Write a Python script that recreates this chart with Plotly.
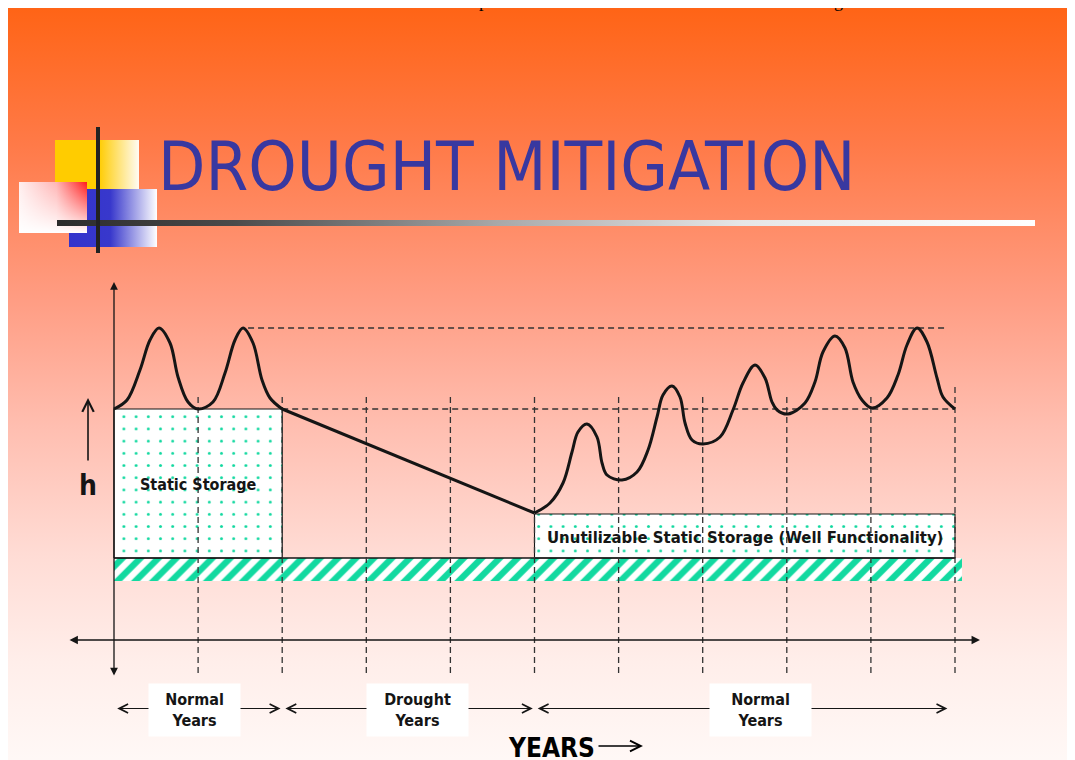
import plotly.graph_objects as go

# ---------------- data (x in years, h in relative water-level units) ----------------
year_marks = [1, 2, 3, 4, 5, 6, 7, 8, 9, 10]

normal_x = [0.0, 0.155, 0.309, 0.428, 0.535, 0.666, 0.761, 0.880, 1.0,
            1.177, 1.320, 1.439, 1.534, 1.653, 1.760, 1.855, 2.0]
normal_h = [23.1, 24.0, 27.0, 30.0, 31.2, 29.7, 26.3, 23.8, 23.1,
            23.8, 26.7, 30.0, 31.2, 29.7, 26.0, 24.2, 23.1]

drought_x = [2.0, 5.0]
drought_h = [23.1, 12.7]

recovery_x = [5.0, 5.184, 5.339, 5.446, 5.517, 5.624, 5.743, 5.803, 5.862, 6.040,
              6.219, 6.350, 6.457, 6.528, 6.635, 6.730, 6.790, 6.873, 7.004, 7.206,
              7.360, 7.479, 7.622, 7.741, 7.824, 7.884, 8.014, 8.216, 8.335, 8.430,
              8.573, 8.692, 8.787, 8.894, 9.013, 9.191, 9.322, 9.429, 9.548, 9.667,
              9.786, 9.857, 10.0]
recovery_h = [12.7, 13.7, 15.7, 18.8, 20.8, 21.6, 20.3, 17.7, 16.5, 16.0,
              16.8, 19.0, 22.3, 24.5, 25.4, 24.3, 21.7, 20.0, 19.6, 20.3,
              23.0, 25.7, 27.5, 26.2, 23.8, 23.0, 22.6, 23.7, 25.8, 28.8,
              30.4, 29.2, 25.8, 24.0, 23.2, 24.2, 26.5, 29.5, 31.2, 29.8,
              26.2, 24.3, 23.1]

base_level = 23.1
peak_level = 31.2
storage_floor = 8.2
hatch_floor = 5.9
unusable_top = 12.6

period_labels = ["Normal<br>Years", "Drought<br>Years", "Normal<br>Years"]
period_start = [0.0, 2.0, 5.0]
period_end = [2.0, 5.0, 9.93]

title_text = "DROUGHT MITIGATION"

# ---------------- layout constants ----------------
W, H = 1075, 760
OFF = 8                                   # page offset of the figure inside the window
PX0, PX_PER_YEAR = 114.0 - OFF, 84.1      # pixel of year 0, pixels per year
PY0, PX_PER_UNIT = 640.0 - OFF, 10.0      # pixel of h = 0, pixels per unit
X2_RANGE = [(0 - PX0) / PX_PER_YEAR, (W - PX0) / PX_PER_YEAR]
Y2_RANGE = [(PY0 - H) / PX_PER_UNIT, PY0 / PX_PER_UNIT]

FONT = "DejaVu Sans Condensed, DejaVu Sans, sans-serif"
GREEN = "#12D9A0"
INK = "#151515"

fig = go.Figure()


def rect(x0, x1, y0, y1):
    return [x0, x1, x1, x0, x0], [y0, y0, y1, y1, y0]


def grad_rect(x0, x1, y0, y1, kind, cs, shift=True):
    if shift:
        x0, x1, y0, y1 = x0 - OFF, x1 - OFF, y0 - OFF, y1 - OFF
    xs, ys = rect(x0, x1, y0, y1)
    start, stop = (x0, x1) if kind == "horizontal" else (y0, y1)
    fig.add_trace(go.Scatter(
        x=xs, y=ys, mode="lines", line=dict(width=0), fill="toself",
        fillgradient=dict(type=kind, colorscale=cs, start=start, stop=stop),
        xaxis="x", yaxis="y", hoverinfo="skip", showlegend=False))


# ---------------- slide decoration (pixel axes x / y) ----------------
grad_rect(0, W, 0, H, "vertical",
          [[0, "#FF6416"], [0.18, "#FF7A48"], [0.38, "#FF9C82"],
           [0.55, "#FFBEB0"], [0.72, "#FFDCD5"], [0.86, "#FFEEEA"], [1, "#FFF9F7"]], shift=False)
grad_rect(55, 139, 140, 189, "horizontal",
          [[0, "#FFCC00"], [0.52, "#FFCC00"], [1, "#FFFBF4"]])
grad_rect(69, 157, 189, 247, "horizontal",
          [[0, "#3333CC"], [0.47, "#3838CC"], [1, "#FFFFFF"]])
grad_rect(19, 87, 182, 233, "horizontal",
          [[0, "#FFEFEF"], [0.55, "#FFB5B5"], [1, "#FF1A1A"]])
grad_rect(19, 87, 182, 233, "vertical",
          [[0, "rgba(255,255,255,0)"], [1, "rgba(255,255,255,1)"]])
grad_rect(57, 1035, 220, 226, "horizontal",
          [[0, "#2B2B2B"], [0.18, "#4A4A4A"], [0.45, "#A8A8A8"], [0.7, "#E6E6E6"], [1, "#FFFFFF"]])
grad_rect(96, 100, 127, 253, "horizontal", [[0, "#222222"], [1, "#222222"]])

# ---------------- diagram (axes x2 / y2) ----------------
D = dict(xaxis="x2", yaxis="y2", hoverinfo="skip", showlegend=False)

hx, hy = rect(0, 10.083, hatch_floor, storage_floor)
fig.add_trace(go.Scatter(
    x=hx, y=hy, mode="lines", line=dict(width=0), fill="toself", fillcolor=GREEN,
    fillpattern=dict(shape="/", fgcolor=GREEN, bgcolor="white", size=12.7,
                     solidity=0.5, fillmode="replace"), **D))

sx, sy = rect(0, 2, storage_floor, base_level)
fig.add_trace(go.Scatter(
    x=sx, y=sy, mode="lines", line=dict(width=1.2, color=INK), fill="toself", fillcolor=GREEN,
    fillpattern=dict(shape=".", fgcolor=GREEN, bgcolor="white", size=12.2,
                     solidity=0.045, fillmode="replace"), **D))

ux, uy = rect(5, 10, storage_floor, unusable_top)
fig.add_trace(go.Scatter(
    x=ux, y=uy, mode="lines", line=dict(width=1.1, color=INK), fill="toself", fillcolor=GREEN,
    fillpattern=dict(shape=".", fgcolor=GREEN, bgcolor="white", size=12.2,
                     solidity=0.045, fillmode="replace"), **D))

fig.add_trace(go.Scatter(x=[0, 10], y=[storage_floor, storage_floor], mode="lines",
                         line=dict(width=1.3, color=INK), **D))

# dashed year lines
vx, vy = [], []
for yr in year_marks:
    top = base_level + (2.2 if yr == year_marks[-1] else 1.2)
    vx += [yr, yr, None]
    vy += [top, -3.7, None]
fig.add_trace(go.Scatter(x=vx, y=vy, mode="lines",
                         line=dict(width=1.3, color="#333333", dash="6px,4px"), **D))

# dashed reference levels
fig.add_trace(go.Scatter(x=[normal_x[12] + 0.06, 9.917, None, 2.0, 10.0],
                         y=[peak_level, peak_level, None, base_level, base_level],
                         mode="lines", line=dict(width=1.3, color="#333333", dash="6px,4px"), **D))

# water level curve
fig.add_trace(go.Scatter(x=normal_x, y=normal_h, mode="lines",
                         line=dict(width=3, color=INK, shape="spline", smoothing=1.0), **D))
fig.add_trace(go.Scatter(x=drought_x, y=drought_h, mode="lines",
                         line=dict(width=3, color=INK), **D))
fig.add_trace(go.Scatter(x=recovery_x, y=recovery_h, mode="lines",
                         line=dict(width=3, color=INK, shape="spline", smoothing=1.0), **D))

ann = []
A = dict(xref="x2", yref="y2", axref="x2", ayref="y2")

# axes with arrows
ann.append(dict(x=0, y=35.8, ax=0, ay=-3.7, text="", showarrow=True, arrowside="end+start",
                arrowhead=2, startarrowhead=2, arrowsize=1.2, startarrowsize=1.2,
                arrowwidth=1.3, arrowcolor=INK, **A))
ann.append(dict(x=10.297, y=0, ax=-0.547, ay=0, text="", showarrow=True, arrowside="end+start",
                arrowhead=2, startarrowhead=2, arrowsize=1.2, startarrowsize=1.2,
                arrowwidth=1.4, arrowcolor=INK, **A))
# h arrow
ann.append(dict(x=-0.309, y=24.2, ax=-0.309, ay=17.8, text="", showarrow=True,
                arrowhead=5, arrowsize=1.4, arrowwidth=1.6, arrowcolor=INK, **A))
ann.append(dict(x=-0.309, y=15.5, text="h", showarrow=False, xref="x2", yref="y2",
                font=dict(family=FONT, size=28, color=INK, weight="bold")))

# period arrows and labels
centers = [0.957, 3.609, 7.687]
widths = [91, 101, 101]
for lab, s, e, c, w in zip(period_labels, period_start, period_end, centers, widths):
    ann.append(dict(x=e - 0.02, y=-6.85, ax=s + 0.02, ay=-6.85, text="", showarrow=True,
                    arrowside="end+start", arrowhead=5, startarrowhead=5,
                    arrowsize=1.6, startarrowsize=1.6, arrowwidth=1.1, arrowcolor=INK, **A))
    ann.append(dict(x=c, y=-7.0, text=lab, showarrow=False, xref="x2", yref="y2",
                    bgcolor="white", width=w, height=52, borderpad=0,
                    font=dict(family=FONT, size=16, color=INK, weight="bold")))

# YEARS label
ann.append(dict(x=5.2, y=-10.8, text="YEARS", showarrow=False, xref="x2", yref="y2",
                font=dict(family=FONT, size=26, color="#000000", weight="bold")))
ann.append(dict(x=6.29, y=-10.6, ax=5.743, ay=-10.6, text="", showarrow=True,
                arrowhead=5, arrowsize=1.5, arrowwidth=1.4, arrowcolor="#000000", **A))

# storage labels
ann.append(dict(x=1.0, y=15.6, text="Static Storage", showarrow=False, xref="x2", yref="y2",
                font=dict(family=FONT, size=16, color=INK, weight="bold")))
ann.append(dict(x=7.503, y=10.3, text="Unutilizable Static Storage (Well Functionality)",
                showarrow=False, xref="x2", yref="y2",
                font=dict(family=FONT, size=16.6, color=INK, weight="bold")))

# slide title
ann.append(dict(x=156 - OFF, y=166 - OFF, xanchor="left", yanchor="middle", text=title_text,
                showarrow=False, xref="x", yref="y",
                font=dict(family=FONT, size=68.5, color="#3838A0")))

# clipped text fragments above the slide
ann.append(dict(x=(483 - OFF) / W, y=1 - 5 / H, xanchor="center", yanchor="bottom", text="p",
                showarrow=False, xref="paper", yref="paper",
                font=dict(family="Liberation Serif", size=18, color="#000000")))
ann.append(dict(x=(838 - OFF) / W, y=1 - 5 / H, xanchor="center", yanchor="bottom", text="g",
                showarrow=False, xref="paper", yref="paper",
                font=dict(family="Liberation Serif", size=18, color="#000000")))

fig.update_layout(
    width=W, height=H, margin=dict(l=0, r=0, t=0, b=0),
    paper_bgcolor="white", plot_bgcolor="rgba(0,0,0,0)",
    showlegend=False, hovermode=False,
    xaxis=dict(range=[0, W], visible=False, fixedrange=True),
    yaxis=dict(range=[H, 0], visible=False, fixedrange=True),
    xaxis2=dict(range=X2_RANGE, visible=False, overlaying="x", anchor="y2", fixedrange=True),
    yaxis2=dict(range=Y2_RANGE, visible=False, overlaying="y", anchor="x2", fixedrange=True),
    annotations=ann,
)

fig.write_html("out.html")
